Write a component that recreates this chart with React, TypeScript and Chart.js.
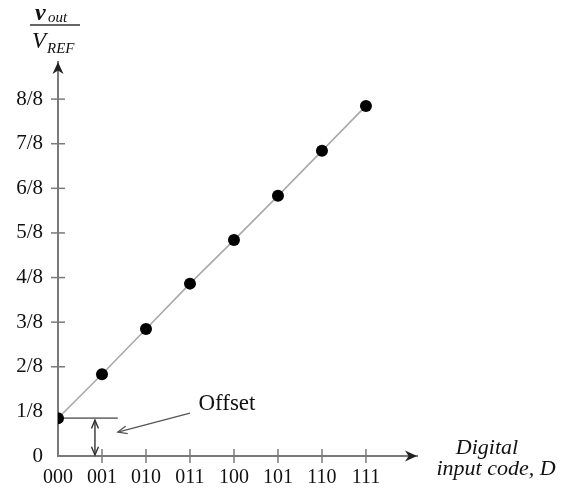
import React, { useEffect, useRef } from "react";
import { Chart, registerables } from "chart.js";

Chart.register(...registerables);

// ---- data ----
const codes = ["000", "001", "010", "011", "100", "101", "110", "111"];
const outputValues = [0.106, 0.229, 0.356, 0.483, 0.605, 0.729, 0.855, 0.981];
const yTickValues = [0, 0.125, 0.25, 0.375, 0.5, 0.625, 0.75, 0.875, 1.0];
const yTickLabels = ["0", "1/8", "2/8", "3/8", "4/8", "5/8", "6/8", "7/8", "8/8"];
const offsetLevel = 0.106;
const offsetLineEnd = 1.36;
const offsetArrowX = 0.84;
const offsetLabel = "Offset";
const offsetLabelPos = { x: 3.84, y: 0.146 };
const pointerFrom = { x: 3.0, y: 0.12 };
const pointerTo = { x: 1.36, y: 0.067 };
const xTitleLines = ["Digital", "input code, D"];

const SERIF = "'Liberation Serif', 'DejaVu Serif', serif";
const AXIS_COLOR = "#7a7a7a";
const TEXT_COLOR = "#111";

function drawOpenHead(ctx: CanvasRenderingContext2D, x: number, y: number, ang: number, len: number, spread: number) {
  ctx.beginPath();
  ctx.moveTo(x - len * Math.cos(ang - spread), y - len * Math.sin(ang - spread));
  ctx.lineTo(x, y);
  ctx.lineTo(x - len * Math.cos(ang + spread), y - len * Math.sin(ang + spread));
  ctx.stroke();
}

function drawFilledHead(ctx: CanvasRenderingContext2D, x: number, y: number, ang: number, len: number, half: number) {
  const bx = x - len * Math.cos(ang);
  const by = y - len * Math.sin(ang);
  const px = -Math.sin(ang);
  const py = Math.cos(ang);
  const ix = x - len * 0.7 * Math.cos(ang);
  const iy = y - len * 0.7 * Math.sin(ang);
  ctx.beginPath();
  ctx.moveTo(x, y);
  ctx.lineTo(bx + px * half, by + py * half);
  ctx.lineTo(ix, iy);
  ctx.lineTo(bx - px * half, by - py * half);
  ctx.closePath();
  ctx.fill();
}

const decorPlugin = {
  id: "decor",
  afterDraw(chart: any) {
    const ctx = chart.ctx as CanvasRenderingContext2D;
    const xs = chart.scales.x;
    const ys = chart.scales.y;
    const area = chart.chartArea;
    ctx.save();

    // tick marks crossing the axes
    ctx.strokeStyle = AXIS_COLOR;
    ctx.lineWidth = 1.5;
    const x0 = xs.getPixelForValue(0);
    const y0 = ys.getPixelForValue(0);
    yTickValues.forEach((v, i) => {
      if (i < 2) return;
      const py = ys.getPixelForValue(v);
      ctx.beginPath();
      ctx.moveTo(x0 - 7, py);
      ctx.lineTo(x0 + 7, py);
      ctx.stroke();
    });
    codes.forEach((_, i) => {
      if (i === 0) return;
      const px = xs.getPixelForValue(i);
      ctx.beginPath();
      ctx.moveTo(px, y0 - 7);
      ctx.lineTo(px, y0 + 7);
      ctx.stroke();
    });

    // axis arrowheads
    ctx.fillStyle = "#222";
    drawFilledHead(ctx, x0, area.top, -Math.PI / 2, 12, 5.5);
    drawFilledHead(ctx, area.right, y0, 0, 12, 5.5);

    // offset double arrow
    ctx.strokeStyle = "#333";
    ctx.lineWidth = 1.4;
    const ax = xs.getPixelForValue(offsetArrowX);
    const ayTop = ys.getPixelForValue(offsetLevel) + 2;
    const ayBot = y0 - 1;
    ctx.beginPath();
    ctx.moveTo(ax, ayTop);
    ctx.lineTo(ax, ayBot);
    ctx.stroke();
    drawOpenHead(ctx, ax, ayTop, -Math.PI / 2, 9, 0.4);
    drawOpenHead(ctx, ax, ayBot, Math.PI / 2, 9, 0.4);

    // pointer arrow
    ctx.strokeStyle = "#555";
    ctx.lineWidth = 1.3;
    const fx = xs.getPixelForValue(pointerFrom.x);
    const fy = ys.getPixelForValue(pointerFrom.y);
    const tx = xs.getPixelForValue(pointerTo.x);
    const ty = ys.getPixelForValue(pointerTo.y);
    ctx.beginPath();
    ctx.moveTo(fx, fy);
    ctx.lineTo(tx, ty);
    ctx.stroke();
    drawOpenHead(ctx, tx, ty, Math.atan2(ty - fy, tx - fx), 10, 0.4);

    // offset label
    ctx.fillStyle = TEXT_COLOR;
    ctx.font = `23px ${SERIF}`;
    ctx.textAlign = "center";
    ctx.textBaseline = "middle";
    ctx.fillText(offsetLabel, xs.getPixelForValue(offsetLabelPos.x), ys.getPixelForValue(offsetLabelPos.y));

    // x title (right of axis)
    ctx.font = `italic 22px ${SERIF}`;
    ctx.fillText(xTitleLines[0], area.right + 70, y0 - 8);
    ctx.fillText(xTitleLines[1], area.right + 79, y0 + 13);

    // y title as fraction v_out / V_REF
    ctx.textAlign = "left";
    ctx.textBaseline = "alphabetic";
    ctx.font = `italic bold 24px ${SERIF}`;
    ctx.fillText("v", 35, 20);
    ctx.font = `italic 15px ${SERIF}`;
    ctx.fillText("out", 48, 22);
    ctx.strokeStyle = "#333";
    ctx.lineWidth = 1.5;
    ctx.beginPath();
    ctx.moveTo(30, 25);
    ctx.lineTo(80, 25);
    ctx.stroke();
    ctx.font = `italic 23px ${SERIF}`;
    ctx.fillText("V", 32, 48);
    ctx.font = `italic 15px ${SERIF}`;
    ctx.fillText("REF", 47, 53);

    ctx.restore();
  },
};

export default function App() {
  const ref = useRef<HTMLCanvasElement | null>(null);
  useEffect(() => {
    if (!ref.current) return;
    const chart = new Chart(ref.current, {
      type: "scatter",
      data: {
        datasets: [
          {
            data: codes.map((_, i) => ({ x: i, y: outputValues[i] })),
            showLine: true,
            borderColor: "#a9a9a9",
            borderWidth: 1.6,
            pointRadius: 6,
            pointBackgroundColor: "#000",
            pointBorderWidth: 0,
          },
          {
            data: [
              { x: 0, y: offsetLevel },
              { x: offsetLineEnd, y: offsetLevel },
            ],
            showLine: true,
            borderColor: "#777",
            borderWidth: 1.6,
            pointRadius: 0,
          },
        ],
      },
      options: {
        animation: false,
        responsive: true,
        maintainAspectRatio: false,
        layout: { padding: { top: 62, right: 146, left: 0, bottom: 0 } },
        plugins: { legend: { display: false }, tooltip: { enabled: false } },
        scales: {
          x: {
            type: "linear",
            min: 0,
            max: 8.16,
            afterBuildTicks: (s: any) => {
              s.ticks = codes.map((_, i) => ({ value: i }));
            },
            afterFit: (s: any) => {
              s.height = 32;
            },
            ticks: {
              callback: (v: any) => codes[v as number] ?? "",
              font: { family: SERIF, size: 20 },
              color: TEXT_COLOR,
              padding: 2,
              maxRotation: 0,
              autoSkip: false,
            },
            grid: { display: false },
            border: { display: true, color: AXIS_COLOR, width: 2 },
          },
          y: {
            type: "linear",
            min: 0,
            max: 1.104,
            afterBuildTicks: (s: any) => {
              s.ticks = yTickValues.map((v) => ({ value: v }));
            },
            afterFit: (s: any) => {
              s.width = 58;
            },
            ticks: {
              callback: (v: any) => {
                const idx = yTickValues.indexOf(v as number);
                return idx >= 0 ? yTickLabels[idx] : "";
              },
              font: { family: SERIF, size: 21 },
              color: TEXT_COLOR,
              padding: 7,
              autoSkip: false,
            },
            grid: { display: false },
            border: { display: true, color: AXIS_COLOR, width: 2 },
          },
        },
      },
      plugins: [decorPlugin],
    });
    return () => chart.destroy();
  }, []);
  return (
    <div style={{ position: "fixed", left: 0, top: 0, width: 563, height: 488, background: "#fff" }}>
      <canvas ref={ref} />
    </div>
  );
}
